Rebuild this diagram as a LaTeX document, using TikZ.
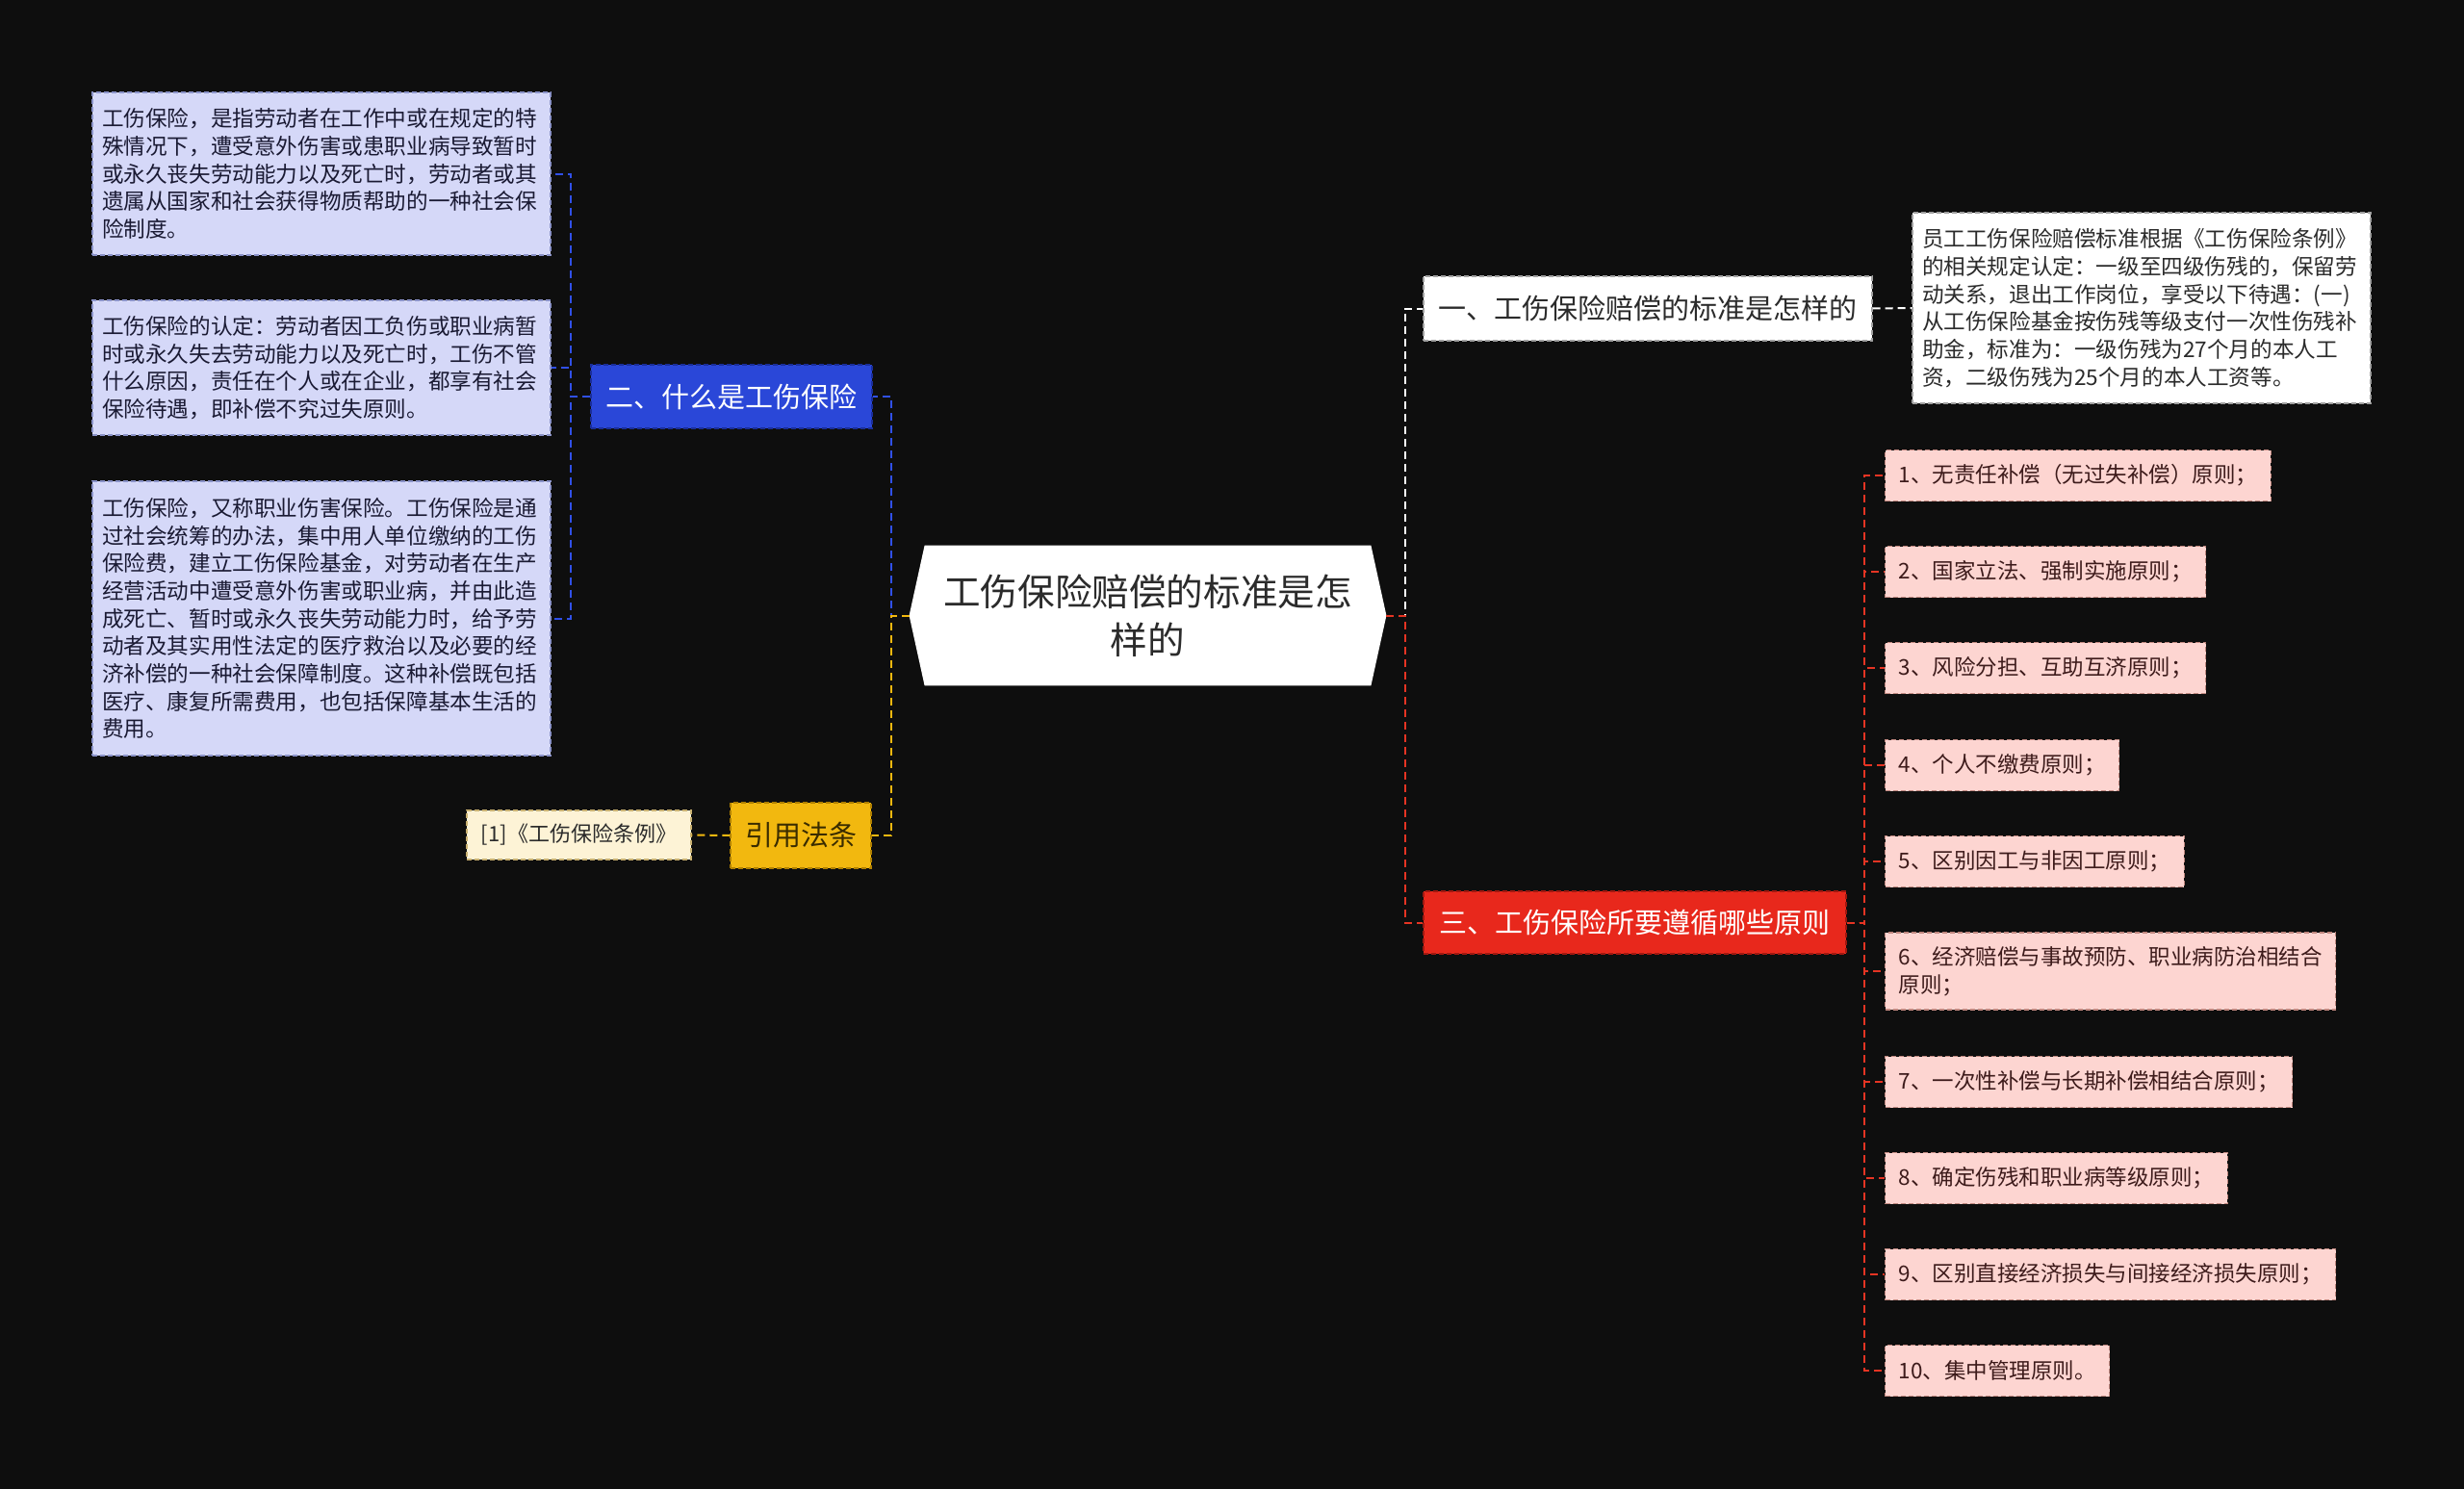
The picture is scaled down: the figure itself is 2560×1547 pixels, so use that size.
\documentclass[tikz,border=0pt]{standalone}
\usepackage{fontspec}
\setmainfont{Noto Sans CJK SC}
\usetikzlibrary{backgrounds}
\definecolor{bg}{HTML}{0E0E0E}
\definecolor{lavf}{HTML}{D5D8F8}
\definecolor{lavline}{HTML}{8A92C8}
\definecolor{lavtext}{HTML}{1A1A33}
\definecolor{bluef}{HTML}{2A47D8}
\definecolor{blueline}{HTML}{1A2E9A}
\definecolor{bluelink}{HTML}{3050E8}
\definecolor{yelf}{HTML}{F2B80F}
\definecolor{yelline}{HTML}{B08000}
\definecolor{yeltext}{HTML}{3A2C00}
\definecolor{citef}{HTML}{FDF3D6}
\definecolor{citeline}{HTML}{C8B070}
\definecolor{redf}{HTML}{E8281C}
\definecolor{redline}{HTML}{A01810}
\definecolor{redlink}{HTML}{E53423}
\definecolor{pinkf}{HTML}{FDD5D1}
\definecolor{pinkline}{HTML}{C08880}
\definecolor{pinktext}{HTML}{3D1B1B}
\definecolor{whiteline}{HTML}{A0A0A0}
\definecolor{darktext}{HTML}{2B2B2B}
\begin{document}
\begin{tikzpicture}[x=0.5pt,y=-0.5pt,
  bdr/.style={dash pattern=on 2.5pt off 1.5pt, line width=0.6pt},
  lnk/.style={dash pattern=on 4pt off 2.5pt, line width=1pt},
  small/.style={font=\fontsize{11.3pt}{14.35pt}\selectfont},
  medium/.style={font=\fontsize{14.5pt}{18pt}\selectfont},
  lavbox/.style={bdr, fill=lavf, draw=lavline, text=lavtext, small, align=left,
    text width=228pt, inner xsep=5pt, inner ysep=0pt},
  detailbox/.style={bdr, fill=white, draw=whiteline, text=darktext, small, align=left,
    text width=228pt, inner xsep=5pt, inner ysep=0pt},
  pinkbox/.style={bdr, fill=pinkf, draw=pinkline, text=pinktext,
    font=\fontsize{11.25pt}{14.35pt}\selectfont, align=left,
    inner xsep=7pt, inner ysep=0pt, minimum height=26.5pt, anchor=west},
  topicbox/.style={bdr, medium, inner sep=0pt, align=center},
  bluel/.style={lnk, draw=bluelink},
  yell/.style={lnk, draw=yelf},
  whitel/.style={lnk, draw=white},
  redl/.style={lnk, draw=redlink}
]
\useasboundingbox (0,0) rectangle (2560,1547);

% central node
\node[font=\fontsize{19.3pt}{25pt}\selectfont, text=darktext, align=center,
  minimum width=247.5pt, minimum height=72.5pt, inner sep=0pt]
  (c) at (1192.5,639.5) {工伤保险赔偿的标准是怎\\样的};

% left side
\node[topicbox, fill=bluef, draw=blueline, text=white, minimum width=146pt, minimum height=33pt]
  (b2) at (760,412) {二、什么是工伤保险};
\node[lavbox, minimum height=84.5pt] (l1) at (334,180.5)
  {工伤保险，是指劳动者在工作中或在规定的特\\殊情况下，遭受意外伤害或患职业病导致暂时\\或永久丧失劳动能力以及死亡时，劳动者或其\\遗属从国家和社会获得物质帮助的一种社会保\\险制度。};
\node[lavbox, minimum height=70pt] (l2) at (334,382)
  {工伤保险的认定：劳动者因工负伤或职业病暂\\时或永久失去劳动能力以及死亡时，工伤不管\\什么原因，责任在个人或在企业，都享有社会\\保险待遇，即补偿不究过失原则。};
\node[lavbox, minimum height=142.5pt] (l3) at (334,642.5)
  {工伤保险，又称职业伤害保险。工伤保险是通\\过社会统筹的办法，集中用人单位缴纳的工伤\\保险费，建立工伤保险基金，对劳动者在生产\\经营活动中遭受意外伤害或职业病，并由此造\\成死亡、暂时或永久丧失劳动能力时，给予劳\\动者及其实用性法定的医疗救治以及必要的经\\济补偿的一种社会保障制度。这种补偿既包括\\医疗、康复所需费用，也包括保障基本生活的\\费用。};

\node[topicbox, fill=yelf, draw=yelline, text=yeltext, minimum width=73pt, minimum height=34pt]
  (y) at (832,868) {引用法条};
\node[bdr, fill=citef, draw=citeline, text=darktext, font=\fontsize{11pt}{14pt}\selectfont,
  inner sep=0pt, minimum width=116.5pt, minimum height=25.5pt]
  (cite) at (601.5,867.5) {[1]《工伤保险条例》};

% right side
\node[topicbox, fill=white, draw=whiteline, text=darktext, minimum width=233pt, minimum height=33.5pt]
  (w1) at (1712,320.5) {一、工伤保险赔偿的标准是怎样的};
\node[detailbox, minimum height=99pt] (d1) at (2225,320)
  {员工工伤保险赔偿标准根据《工伤保险条例》\\的相关规定认定：一级至四级伤残的，保留劳\\动关系，退出工作岗位，享受以下待遇：(一)\\从工伤保险基金按伤残等级支付一次性伤残补\\助金，标准为：一级伤残为27个月的本人工\\资，二级伤残为25个月的本人工资等。};

\node[topicbox, fill=redf, draw=redline, text=white, minimum width=219.5pt, minimum height=32.5pt]
  (r3) at (1698.5,958.5) {三、工伤保险所要遵循哪些原则};

\node[pinkbox] (p1) at (1958,494) {1、无责任补偿（无过失补偿）原则；};
\node[pinkbox] (p2) at (1958,594) {2、国家立法、强制实施原则；};
\node[pinkbox] (p3) at (1958,694) {3、风险分担、互助互济原则；};
\node[pinkbox] (p4) at (1958,795) {4、个人不缴费原则；};
\node[pinkbox] (p5) at (1958,895) {5、区别因工与非因工原则；};
\node[pinkbox, minimum height=40pt] (p6) at (1958,1009) {6、经济赔偿与事故预防、职业病防治相结合\\原则；};
\node[pinkbox] (p7) at (1958,1124) {7、一次性补偿与长期补偿相结合原则；};
\node[pinkbox] (p8) at (1958,1224) {8、确定伤残和职业病等级原则；};
\node[pinkbox] (p9) at (1958,1324) {9、区别直接经济损失与间接经济损失原则；};
\node[pinkbox] (p10) at (1958,1424) {10、集中管理原则。};

% connectors
\draw[bluel] (c.west) -- (926,639.5) |- (b2.east);
\draw[yell] (c.west) -- (926,639.5) |- (y.east);
\foreach \n in {l1,l2,l3} \draw[bluel] (b2.west) -- (593,412) |- (\n.east);
\draw[yell] (y.west) -- (cite.east);

\draw[whitel] (c.east) -- (1460,639.5) |- (w1.west);
\draw[redl] (c.east) -- (1460,639.5) |- (r3.west);
\draw[whitel] (w1.east) -- (d1.west);
\foreach \n in {p1,p2,p3,p4,p5,p6,p7,p8,p9,p10} \draw[redl] (r3.east) -- (1937,958.5) |- (\n.west);

\begin{scope}[on background layer]
  \fill[bg] (0,0) rectangle (2560,1547);
  \fill[white] (c.west) -- ([xshift=8pt]c.north west) -- ([xshift=-8pt]c.north east)
    -- (c.east) -- ([xshift=-8pt]c.south east) -- ([xshift=8pt]c.south west) -- cycle;
\end{scope}
\end{tikzpicture}
\end{document}
